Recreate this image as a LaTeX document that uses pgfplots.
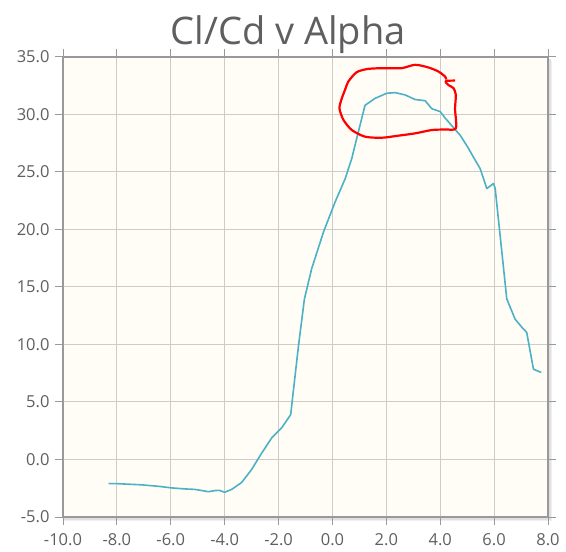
\documentclass[border=0pt]{standalone}
\usepackage{fontspec}
\setmainfont{Open Sans}
\usepackage{pgfplots}
\pgfplotsset{compat=1.18}
\definecolor{bgc}{HTML}{FFFDF6}
\definecolor{gridc}{HTML}{CCCCCC}
\definecolor{framec}{HTML}{999999}
\definecolor{linec}{HTML}{4BB2C5}
\definecolor{textc}{HTML}{5F5F5F}
\pgfplotstableread{
x y
-8.31 -2.09
-8.00 -2.10
-7.10 -2.20
-6.46 -2.33
-5.97 -2.47
-5.47 -2.56
-5.10 -2.60
-4.60 -2.80
-4.35 -2.70
-4.20 -2.68
-4.00 -2.85
-3.74 -2.60
-3.37 -2.00
-3.00 -0.87
-2.62 0.58
-2.25 1.89
-1.88 2.77
-1.55 3.90
-1.26 9.90
-1.04 13.96
-0.77 16.60
-0.33 19.80
0.10 22.40
0.47 24.40
0.72 26.20
0.93 28.20
1.21 30.80
1.58 31.40
2.02 31.85
2.33 31.90
2.70 31.70
3.07 31.30
3.44 31.20
3.69 30.50
4.00 30.25
4.18 29.70
4.55 28.70
4.74 28.20
5.05 27.05
5.23 26.30
5.48 25.30
5.73 23.56
5.98 24.00
6.04 23.56
6.47 13.96
6.78 12.20
7.03 11.50
7.21 11.05
7.46 7.85
7.75 7.57
}\clcd
\begin{document}
\begin{tikzpicture}
\path[use as bounding box] (-63bp,-35bp) rectangle (503bp,517bp);
\fill[black!6] (1bp,-4bp) rectangle (489bp,456bp);
\fill[black!12] (1bp,-2.5bp) rectangle (487.5bp,457.5bp);
\begin{axis}[
  at={(0,0)}, anchor=south west,
  scale only axis, width=485bp, height=460bp,
  xmin=-10, xmax=8, ymin=-5, ymax=35,
  xtick={-10,-8,...,8}, ytick={-5,0,...,35},
  grid=major, major grid style={gridc, line width=1bp},
  axis background/.style={fill=bgc},
  axis line style={framec, line width=2bp},
  tick align=outside, major tick length=8bp,
  tick style={framec, line width=1bp},
  /pgf/number format/fixed,
  /pgf/number format/fixed zerofill,
  /pgf/number format/precision=1,
  /pgf/number format/assume math mode=true,
  ticklabel style={font=\fontsize{16.5bp}{19bp}\selectfont, text=textc},
  xticklabel style={yshift=-5bp},
  yticklabel style={xshift=-2bp},
]
\addplot[linec, line width=1.6bp, line join=round] table {\clcd};
\addplot[red, line width=2.2bp, smooth, tension=0.45, line join=round] coordinates {
(4.55,32.95) (4.20,32.90) (4.31,32.55) (4.49,32.30) (4.58,31.70) (4.55,30.50) (4.58,28.80)
(4.18,28.70) (3.69,28.65) (3.07,28.36) (2.45,28.16) (1.83,27.98) (1.21,28.07)
(0.72,28.65) (0.41,29.52) (0.26,30.54) (0.35,31.41) (0.49,32.29) (0.59,32.87)
(0.90,33.68) (1.34,33.97) (1.96,34.03) (2.57,34.03) (3.07,34.32) (3.56,34.09)
(3.93,33.74) (4.18,33.30) (4.22,33.05)
};
\end{axis}
\node[anchor=base, font=\fontsize{38bp}{44bp}\selectfont, text=textc] at (225bp,472bp) {Cl/Cd v Alpha};
\end{tikzpicture}
\end{document}
